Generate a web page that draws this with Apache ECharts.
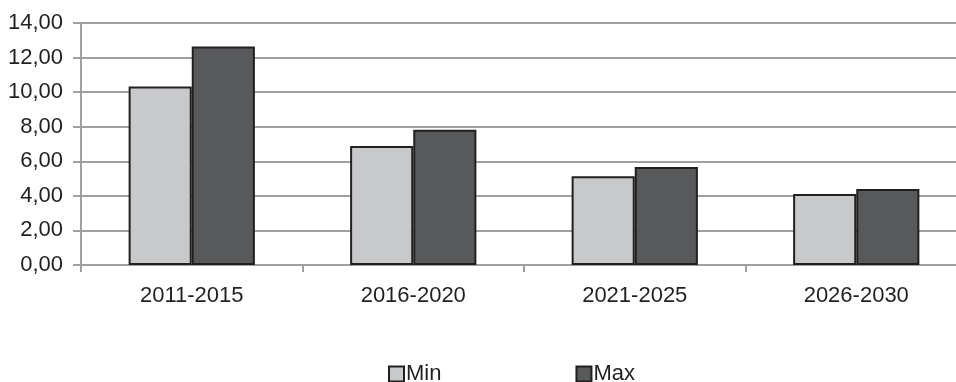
<!DOCTYPE html>
<html>
<head>
<meta charset="utf-8">
<script src="https://cdn.jsdelivr.net/npm/echarts@6/dist/echarts.min.js"></script>
<style>
  html, body { margin: 0; padding: 0; background: #ffffff; }
  #chart { width: 956px; height: 382px; }
</style>
</head>
<body>
<div id="chart"></div>
<script>
// Periods on the category axis
const periods = ['2011-2015', '2016-2020', '2021-2025', '2026-2030'];
// Lower and upper estimates per period
const minValues = [10.32, 6.88, 5.13, 4.11];
const maxValues = [12.64, 7.82, 5.67, 4.40];
// Value axis range
const yMin = 0;
const yMax = 14;
const yStep = 2;

const fontFamily = '"Liberation Sans", Arial, sans-serif';
const gridColor = '#a0a0a0';
const textColor = '#231f20';

const chart = echarts.init(document.getElementById('chart'), null, { renderer: 'canvas' });

chart.setOption({
  animation: false,
  backgroundColor: '#ffffff',
  textStyle: { fontFamily: fontFamily },
  // plot area runs a little past the right edge of the canvas
  grid: {
    left: 81, top: 23, width: 886, height: 242,
    containLabel: false,
    outerBoundsMode: 'none'
  },
  legend: {
    left: 388,
    top: 363,
    padding: 0,
    icon: 'rect',
    itemWidth: 15,
    itemHeight: 15,
    itemGap: 134,
    textStyle: { fontSize: 22, color: textColor, fontFamily: fontFamily, padding: [0, 0, 0, -3] },
    data: ['Min', 'Max']
  },
  xAxis: {
    type: 'category',
    data: periods,
    axisLine: { show: true, lineStyle: { color: gridColor, width: 2 } },
    axisTick: { show: true, length: 7, lineStyle: { color: gridColor, width: 2 } },
    axisLabel: { fontSize: 22, color: textColor, margin: 20, fontFamily: fontFamily },
    splitLine: { show: false }
  },
  yAxis: {
    type: 'value',
    min: yMin,
    max: yMax,
    interval: yStep,
    axisLine: { show: true, lineStyle: { color: gridColor, width: 2 } },
    axisTick: { show: true, length: 8, lineStyle: { color: gridColor, width: 2 } },
    axisLabel: {
      fontSize: 22,
      color: textColor,
      margin: 18,
      fontFamily: fontFamily,
      formatter: v => v.toFixed(2).replace('.', ',')
    },
    splitLine: { show: true, lineStyle: { color: gridColor, width: 2 } }
  },
  series: [
    {
      name: 'Min',
      type: 'bar',
      data: minValues,
      barWidth: '28.5%',
      barGap: '0%',
      itemStyle: { color: '#c8c9cb', borderColor: textColor, borderWidth: 2 }
    },
    {
      name: 'Max',
      type: 'bar',
      data: maxValues,
      barWidth: '28.5%',
      itemStyle: { color: '#58595b', borderColor: textColor, borderWidth: 2 }
    }
  ]
});
</script>
</body>
</html>
